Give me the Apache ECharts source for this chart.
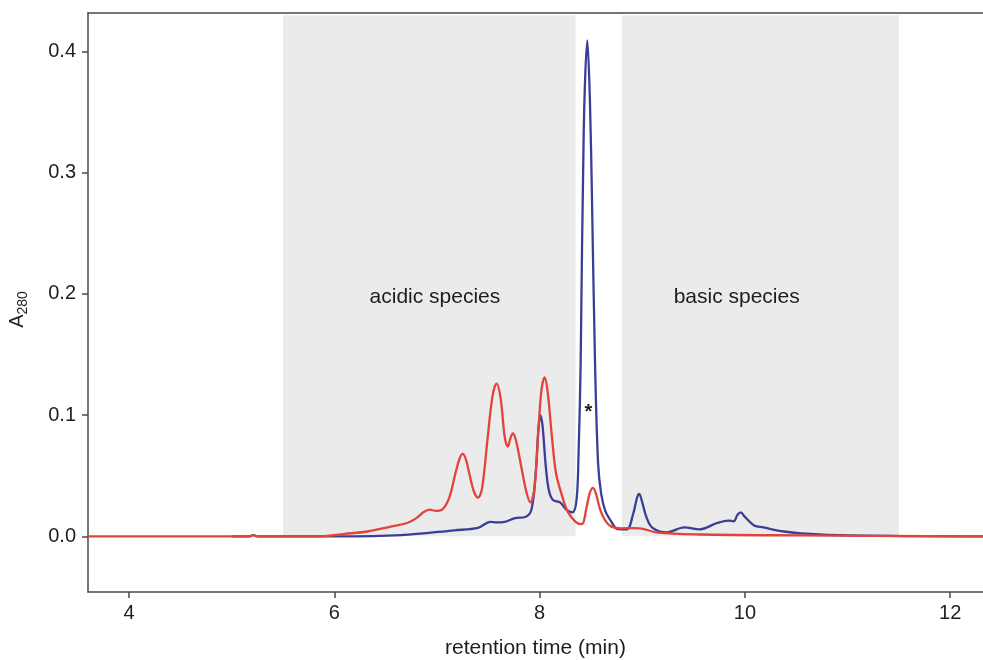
<!DOCTYPE html>
<html>
<head>
<meta charset="utf-8">
<script src="https://cdn.jsdelivr.net/npm/echarts@6/dist/echarts.min.js"></script>
<style>
  html, body { margin: 0; padding: 0; background: #fff; }
  #chart { width: 983px; height: 660px; }
</style>
</head>
<body>
<div id="chart"></div>
<script>
// retention time (min), absorbance
var redTrace = [
  [3.60, 0.000], [5.00, 0.000], [5.17, 0.000], [5.21, 0.001], [5.25, 0.000], [5.86, 0.000],
  [6.10, 0.002], [6.32, 0.004], [6.55, 0.008], [6.71, 0.011], [6.80, 0.015],
  [6.87, 0.020], [6.93, 0.022], [6.99, 0.021], [7.05, 0.022], [7.12, 0.032],
  [7.18, 0.052], [7.22, 0.064], [7.25, 0.068], [7.28, 0.064], [7.32, 0.050],
  [7.36, 0.037], [7.40, 0.032], [7.44, 0.040], [7.49, 0.078], [7.54, 0.115],
  [7.58, 0.126], [7.62, 0.114], [7.66, 0.082], [7.69, 0.074], [7.72, 0.082],
  [7.74, 0.085], [7.77, 0.079], [7.82, 0.058], [7.87, 0.037], [7.91, 0.028],
  [7.95, 0.040], [7.99, 0.090], [8.02, 0.122], [8.05, 0.131], [8.08, 0.118],
  [8.12, 0.082], [8.16, 0.052], [8.21, 0.036], [8.27, 0.021], [8.35, 0.012],
  [8.41, 0.010], [8.46, 0.025], [8.49, 0.036], [8.52, 0.040], [8.55, 0.035],
  [8.59, 0.022], [8.64, 0.013], [8.70, 0.008], [8.80, 0.0066], [8.90, 0.0068],
  [8.98, 0.0066], [9.15, 0.003], [9.57, 0.0015], [10.54, 0.0008], [12.32, 0.000]
];
var blueTrace = [
  [5.00, 0.000], [5.17, 0.000], [5.21, 0.001], [5.25, 0.000], [6.00, 0.000],
  [6.65, 0.001], [7.17, 0.005], [7.40, 0.007], [7.52, 0.012], [7.58, 0.0115],
  [7.66, 0.012], [7.76, 0.015], [7.86, 0.016], [7.92, 0.022], [7.96, 0.050],
  [7.99, 0.090], [8.01, 0.0998], [8.03, 0.090], [8.06, 0.058], [8.09, 0.038],
  [8.13, 0.030], [8.20, 0.028], [8.26, 0.022], [8.32, 0.0198], [8.36, 0.030],
  [8.38, 0.070], [8.40, 0.143], [8.43, 0.335], [8.465, 0.409], [8.49, 0.360],
  [8.51, 0.280], [8.54, 0.143], [8.57, 0.060], [8.60, 0.035], [8.64, 0.021],
  [8.70, 0.012], [8.76, 0.006], [8.85, 0.0058], [8.91, 0.018], [8.95, 0.032],
  [8.97, 0.035], [9.00, 0.028], [9.04, 0.016], [9.10, 0.007], [9.24, 0.0033],
  [9.41, 0.0074], [9.56, 0.0058], [9.73, 0.011], [9.84, 0.013], [9.89, 0.0124],
  [9.93, 0.018], [9.96, 0.0198], [10.00, 0.016], [10.09, 0.009], [10.18, 0.0074],
  [10.38, 0.004], [10.55, 0.0025], [11.00, 0.0008], [12.32, 0.000]
];
var xTicks = [4, 6, 8, 10, 12];
var yTicks = [0, 0.1, 0.2, 0.3, 0.4];
var regions = [
  { name: 'acidic species', from: 5.5, to: 8.35, labelX: 6.98, labelY: 0.197 },
  { name: 'basic species', from: 8.8, to: 11.5, labelX: 9.92, labelY: 0.197 }
];
var starMark = [8.475, 0.102];

var axisColor = '#4a4a4a';
var textColor = '#1e1e1e';
var font = 'Liberation Sans';

var chart = echarts.init(document.getElementById('chart'));

var option = {
  backgroundColor: '#fff',
  animation: false,
  grid: { left: 88, right: 0, top: 13, bottom: 68, containLabel: false, outerBoundsMode: 'none' },
  xAxis: [
    {
      type: 'value',
      min: 3.6,
      max: 12.32,
      name: 'retention time (min)',
      nameLocation: 'middle',
      nameGap: 46,
      nameTextStyle: { color: textColor, fontSize: 21, fontFamily: font },
      axisLine: { onZero: false, lineStyle: { color: axisColor, width: 1.5 } },
      axisTick: { show: true, length: 6, customValues: xTicks, lineStyle: { color: axisColor, width: 1.5 } },
      axisLabel: { customValues: xTicks, color: textColor, fontSize: 20, fontFamily: font, margin: 11 },
      splitLine: { show: false }
    },
    {
      type: 'value',
      position: 'top',
      min: 3.6,
      max: 12.32,
      axisLine: { show: true, onZero: false, lineStyle: { color: axisColor, width: 1.5 } },
      axisTick: { show: false },
      axisLabel: { show: false },
      splitLine: { show: false }
    }
  ],
  yAxis: {
    type: 'value',
    min: -0.0459,
    max: 0.4316,
    name: '{a|A}{s|280}',
    nameLocation: 'middle',
    nameGap: 58,
    nameRotate: 90,
    nameTextStyle: {
      padding: [0, 14, 0, 0],
      rich: {
        a: { color: textColor, fontSize: 20, fontFamily: font },
        s: { color: textColor, fontSize: 14, fontFamily: font, padding: [12, 0, 0, 0] }
      }
    },
    axisLine: { show: true, onZero: false, lineStyle: { color: axisColor, width: 1.5 } },
    axisTick: { show: true, length: 6, customValues: yTicks, lineStyle: { color: axisColor, width: 1.5 } },
    axisLabel: {
      customValues: yTicks,
      color: textColor,
      fontSize: 20,
      fontFamily: font,
      margin: 12,
      formatter: function (v) { return v.toFixed(1) }
    },
    splitLine: { show: false }
  },
  series: [
    {
      type: 'line',
      name: 'regions',
      data: [],
      silent: true,
      markArea: {
        silent: true,
        itemStyle: { color: '#ebebeb', opacity: 1 },
        label: { show: false },
        data: regions.map(function (r) {
          return [{ xAxis: r.from, yAxis: 0 }, { xAxis: r.to, yAxis: 0.4297 }]
        })
      }
    },
    {
      type: 'line',
      name: 'blue',
      data: blueTrace,
      showSymbol: false,
      smooth: 0.35,
      lineStyle: { color: '#3a3e97', width: 2.3 },
      itemStyle: { color: '#3a3e97' },
      z: 3
    },
    {
      type: 'line',
      name: 'red',
      data: redTrace,
      showSymbol: false,
      smooth: 0.35,
      lineStyle: { color: '#e2433b', width: 2.3 },
      itemStyle: { color: '#e2433b' },
      z: 4
    },
    {
      type: 'scatter',
      name: 'labels',
      symbolSize: 0,
      silent: true,
      z: 5,
      itemStyle: { opacity: 1 },
      data: regions.map(function (r) {
        return { value: [r.labelX, r.labelY], label: { formatter: r.name } }
      }).concat([{
        value: starMark,
        label: { formatter: '*', fontSize: 20, fontWeight: 'bold' }
      }]),
      label: {
        show: true,
        position: 'inside',
        color: textColor,
        opacity: 1,
        fontSize: 21,
        fontFamily: font
      }
    }
  ]
};

chart.setOption(option);
</script>
</body>
</html>
